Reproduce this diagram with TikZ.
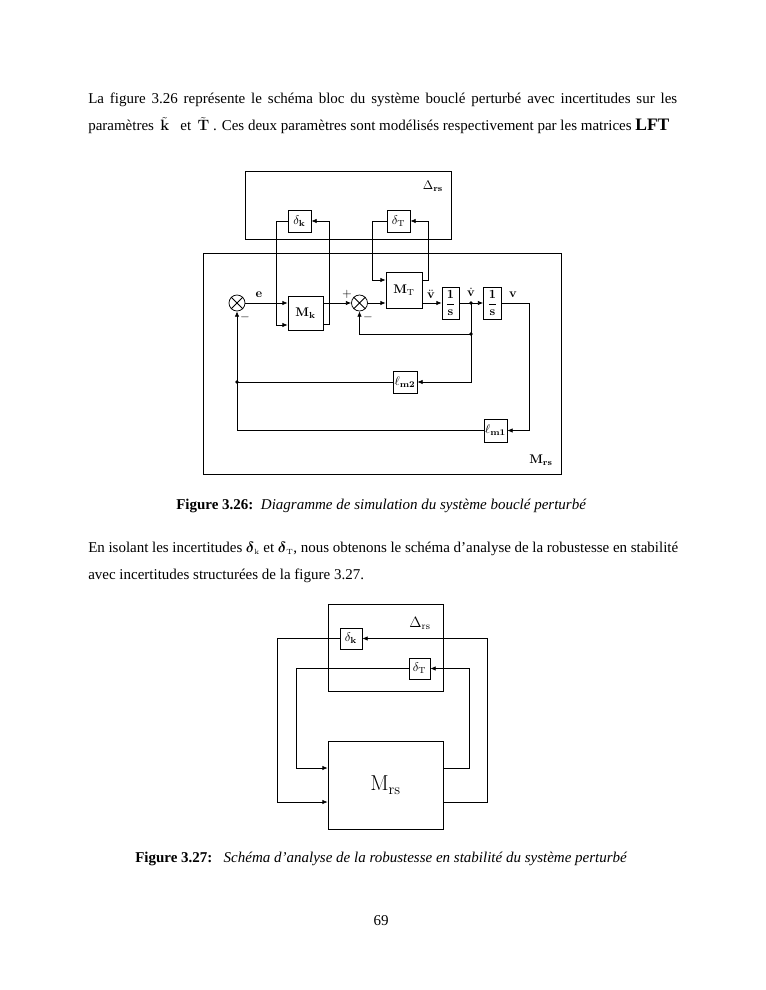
\documentclass[tikz,border=0pt]{standalone}
\usepackage{amsmath}
\usepackage[no-math]{fontspec}
\setmainfont{Liberation Serif}
\usepackage{tikz}
\usetikzlibrary{positioning,arrows.meta,calc}

\begin{document}
\begin{tikzpicture}[x=0.8pt,y=-0.8pt,
  blk/.style={draw,line width=0.6pt,inner sep=0pt,font=\normalsize},
  sig/.style={line width=0.6pt,-{Latex[length=4.2pt,width=3.6pt]}},
  wire/.style={line width=0.6pt},
  sumnode/.style={draw,circle,line width=0.6pt,minimum size=12.8pt,inner sep=0pt},
  txt/.style={anchor=base west,inner sep=0pt,font=\fontsize{12}{14}\selectfont},
  lbl/.style={inner sep=0pt,font=\normalsize}]
  \useasboundingbox (0,0) rectangle (765,990);
  \fill[white] (0,0) rectangle (765,990);

  % text of the page
  \node[txt] (p1a) at (88,104) {\makebox[471.2pt][s]{La figure 3.26 représente le schéma bloc du système bouclé perturbé avec incertitudes sur les}};
  \node[txt] (p1b) at (88,131) {paramètres \,$\tilde{\mathbf{k}}$\ \ \ et \,$\tilde{\mathbf{T}}$ . Ces deux paramètres sont modélisés respectivement par les matrices {\fontsize{14}{16}\selectfont\textbf{LFT}}};
  \node[txt] (cap1) at (176,509) {\textbf{Figure 3.26:}\hspace{6pt}\textit{Diagramme de simulation du système bouclé perturbé}};
  \node[txt] (p2a) at (88,552) {\makebox[472pt][s]{En isolant les incertitudes $\boldsymbol{\delta}_{\scriptscriptstyle\mathrm{k}}$ et $\boldsymbol{\delta}_{\scriptscriptstyle\mathrm{T}}$, nous obtenons le schéma d’analyse de la robustesse en stabilité}};
  \node[txt] (p2b) at (88,579) {avec incertitudes structurées de la figure 3.27.};
  \node[txt] (cap2) at (135,862) {\textbf{Figure 3.27:}\hspace{9pt}\textit{Schéma d’analyse de la robustesse en stabilité du système perturbé}};
  \node[txt,anchor=base] (pg) at (381,925) {69};

  % figure 3.26
  \node[blk,minimum width=164.8pt,minimum height=54.4pt] (deltaA) at (348,205) {};
  \node[lbl] (deltaAlbl) at (433,186) {$\Delta_{\mathbf{rs}}$};
  \node[blk,minimum width=286.4pt,minimum height=176.8pt] (mrsA) at (382,363.5) {};
  \node[lbl] (mrsAlbl) at (541,460) {$\mathbf{M}_{\mathbf{rs}}$};
  \node[blk,minimum width=18.4pt,minimum height=17.6pt] (dk) at (299.5,221) {$\delta_{\mathbf{k}}$};
  \node[blk,minimum width=18.4pt,minimum height=17.6pt] (dT) at (398.5,221) {$\delta_{\mathrm{T}}$};
  \node[blk,minimum width=28pt,minimum height=27.2pt] (mk) at (305.5,313) {$\mathbf{M}_{\mathbf{k}}$};
  \node[blk,minimum width=28.8pt,minimum height=28.8pt] (mt) at (404,290) {$\mathbf{M}_{\mathrm{T}}$};
  \node[blk,minimum width=13.6pt,minimum height=25.6pt] (int1) at (450.5,303) {$\dfrac{\mathbf{1}}{\mathbf{s}}$};
  \node[blk,minimum width=14.4pt,minimum height=25.6pt] (int2) at (492.5,303) {$\dfrac{\mathbf{1}}{\mathbf{s}}$};
  \node[blk,minimum width=19.2pt,minimum height=17.6pt] (lm2) at (405,382) {$\ell_{\mathbf{m2}}$};
  \node[blk,minimum width=18.4pt,minimum height=18.4pt] (lm1) at (495.5,430.5) {$\ell_{\mathbf{m1}}$};
  \node[sumnode] (s1) at (237,303) {};
  \node[sumnode] (s2) at (359.5,303) {};
  \draw[wire] (s1.north west) -- (s1.south east) (s1.north east) -- (s1.south west);
  \draw[wire] (s2.north west) -- (s2.south east) (s2.north east) -- (s2.south west);

  \coordinate (kL) at (276,325);
  \coordinate (kR) at (329,324);
  \coordinate (tL) at (372,280);
  \coordinate (tR) at (428,280);
  \coordinate (j1) at (471,303);
  \coordinate (j2) at (471,334);
  \coordinate (j3) at (237,382);
  \coordinate (out) at (529,303);

  \draw[sig] (s1.east) -- (mk.west |- s1.east);
  \draw[sig] (dk.west) -| (kL) -- (mk.west |- kL);
  \draw[sig] (mk.east |- kR) -- (kR) |- (dk.east);
  \draw[sig] (mk.east |- s2) -- (s2.west);
  \draw[sig] (s2.east) -- (mt.west |- s2);
  \draw[sig] (dT.west) -| (tL) -- (mt.west |- tL);
  \draw[sig] (mt.east |- tR) -- (tR) |- (dT.east);
  \draw[sig] (mt.east |- s2) -- (int1.west);
  \draw[wire] (int1.east) -- (j1);
  \draw[sig] (j1) -- (int2.west);
  \draw[wire] (int2.east) -- (out);
  \draw[sig] (out) |- (lm1.east);
  \draw[sig] (lm1.west) -| (s1.south);
  \draw[sig] (j1) |- (lm2.east);
  \draw[wire] (lm2.west) -- (j3);
  \draw[sig] (j2) -| (s2.south);
  \fill (j1) circle (1.5pt) (j2) circle (1.5pt) (j3) circle (1.5pt);

  \node[lbl] (elbl) at (259,295) {$\mathbf{e}$};
  \node[lbl] (plbl) at (347,294) {$+$};
  \node[lbl] (m1lbl) at (245,317) {$-$};
  \node[lbl] (m2lbl) at (368,317) {$-$};
  \node[lbl] (vddlbl) at (431,294) {$\ddot{\mathbf{v}}$};
  \node[lbl] (vdlbl) at (471,292) {$\dot{\mathbf{v}}$};
  \node[lbl] (vlbl) at (513,295) {$\mathbf{v}$};

  % figure 3.27
  \node[blk,minimum width=92pt,minimum height=69.6pt] (deltaB) at (385.5,647.5) {};
  \node[lbl,font=\large] (deltaBlbl) at (420,623) {$\Delta_{\mathrm{rs}}$};
  \node[blk,minimum width=17.6pt,minimum height=16.8pt] (dk2) at (351,638.5) {$\delta_{\mathbf{k}}$};
  \node[blk,minimum width=16.8pt,minimum height=16.8pt] (dT2) at (419.5,668.5) {$\delta_{\mathrm{T}}$};
  \node[blk,minimum width=92pt,minimum height=70.4pt,font=\LARGE] (mrsB) at (385.5,785) {$\mathrm{M}_{\mathrm{rs}}$};

  \coordinate (aL) at (277,802);
  \coordinate (bL) at (296,768);
  \coordinate (bR) at (469,768);
  \coordinate (aR) at (487,802);

  \draw[sig] (dk2.west) -| (aL) -- (mrsB.west |- aL);
  \draw[sig] (dT2.west) -| (bL) -- (mrsB.west |- bL);
  \draw[sig] (mrsB.east |- bR) -- (bR) |- (dT2.east);
  \draw[sig] (mrsB.east |- aR) -- (aR) |- (dk2.east);
\end{tikzpicture}
\end{document}
